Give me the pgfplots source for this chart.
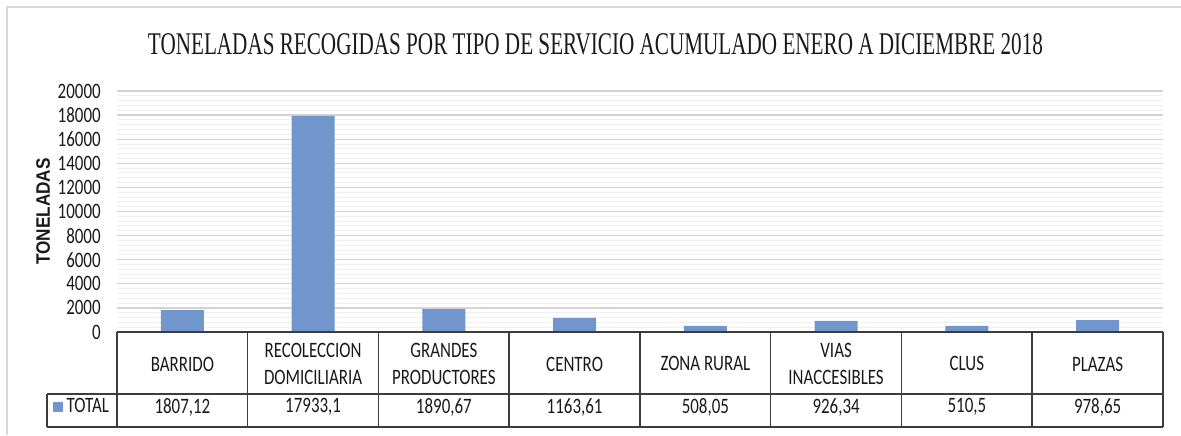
\documentclass[border=0pt]{standalone}
\usepackage{pgfplots}
\pgfplotsset{compat=1.18}
\usepackage{fontspec}
\setmainfont{Carlito}
\newfontfamily\tabfamily[FakeStretch=0.77]{Carlito}
\newfontfamily\titlefamily{Liberation Serif}
\newfontfamily\ylfamily[FakeStretch=0.88]{Liberation Sans}
\newcommand\tabfont{\tabfamily\fontsize{13.2}{15.8}\selectfont}
\newcommand\ylfont{\ylfamily\bfseries\fontsize{11.7}{14}\selectfont}
\definecolor{barblue}{RGB}{112,150,203}
\definecolor{tabline}{RGB}{60,60,60}
\definecolor{txt}{RGB}{25,25,25}
\begin{document}
\begin{tikzpicture}[x=0.6pt,y=0.6pt]
\path[use as bounding box] (0,0) rectangle (1181,435);
\draw[black!15, line width=1.2pt] (7,0) -- (7,428) -- (1181,428);
\node[anchor=base, inner sep=0pt, text=txt] at (595.5,381) {\resizebox{537pt}{12.6pt}{\titlefamily TONELADAS RECOGIDAS POR TIPO DE SERVICIO ACUMULADO ENERO A DICIEMBRE 2018}};
\begin{axis}[
  at={(70.2pt,61.8pt)}, anchor=south west,
  scale only axis, width=627.6pt, height=144.6pt,
  xmin=-0.5, xmax=7.5, ymin=0, ymax=20000,
  clip=false,
  axis line style={draw=none},
  major tick length=0pt, minor tick length=0pt,
  xtick=\empty,
  ytick={0,2000,...,20000},
  minor y tick num=4,
  ymajorgrids, yminorgrids,
  major grid style={draw=black!17, line width=0.8pt},
  minor grid style={draw=black!6, line width=0.6pt},
  scaled y ticks=false,
  /pgf/number format/assume math mode=true,
  /pgf/number format/1000 sep={},
  yticklabel style={font=\tabfont, text=txt, anchor=east, inner sep=0pt, xshift=-9.6pt},
  ylabel={TONELADAS},
  every axis y label/.style={at={(rel axis cs:-0.0707,0.5)}, rotate=90, anchor=center, font=\ylfont, text=txt},
  legend style={at={(rel axis cs:-0.0612,-0.311)}, anchor=west, draw=none, fill=none, inner sep=0pt, font=\tabfont, text=txt, legend cell align=left},
  legend image code/.code={\fill[barblue] (0pt,-3pt) rectangle (6pt,3pt);},
]
\addplot[ybar, bar width=25.8pt, bar shift=0pt, fill=barblue, draw=none]
  coordinates {(0,1807.12) (1,17933.1) (2,1890.67) (3,1163.61) (4,508.05) (5,926.34) (6,510.5) (7,978.65)};
\addlegendentry{TOTAL}
% table lines
\draw[tabline, line width=0.9pt] (axis cs:-0.5,0) -- (axis cs:7.5,0);
\draw[tabline, line width=0.9pt] (axis cs:-1.035,-5145) -- (axis cs:7.5,-5145);
\draw[tabline, line width=0.9pt] (axis cs:-1.035,-7884) -- (axis cs:7.5,-7884);
\draw[tabline, line width=0.9pt] (axis cs:-1.035,-5145) -- (axis cs:-1.035,-7884);
\pgfplotsinvokeforeach{-0.5,0.5,1.5,2.5,3.5,4.5,5.5,6.5,7.5}{
  \draw[tabline, line width=0.9pt] (axis cs:#1,0) -- (axis cs:#1,-7884);
}
% header row
\node[font=\tabfont, text=txt, align=center] at (axis cs:0,-2650) {BARRIDO};
\node[font=\tabfont, text=txt, align=center] at (axis cs:1,-2650) {RECOLECCION\\DOMICILIARIA};
\node[font=\tabfont, text=txt, align=center] at (axis cs:2,-2650) {GRANDES\\PRODUCTORES};
\node[font=\tabfont, text=txt, align=center] at (axis cs:3,-2650) {CENTRO};
\node[font=\tabfont, text=txt, align=center] at (axis cs:4,-2650) {ZONA RURAL};
\node[font=\tabfont, text=txt, align=center] at (axis cs:5,-2650) {VIAS\\INACCESIBLES};
\node[font=\tabfont, text=txt, align=center] at (axis cs:6,-2650) {CLUS};
\node[font=\tabfont, text=txt, align=center] at (axis cs:7,-2650) {PLAZAS};
% value row
\node[font=\tabfont, text=txt] at (axis cs:0,-6224) {1807,12};
\node[font=\tabfont, text=txt] at (axis cs:1,-6224) {17933,1};
\node[font=\tabfont, text=txt] at (axis cs:2,-6224) {1890,67};
\node[font=\tabfont, text=txt] at (axis cs:3,-6224) {1163,61};
\node[font=\tabfont, text=txt] at (axis cs:4,-6224) {508,05};
\node[font=\tabfont, text=txt] at (axis cs:5,-6224) {926,34};
\node[font=\tabfont, text=txt] at (axis cs:6,-6224) {510,5};
\node[font=\tabfont, text=txt] at (axis cs:7,-6224) {978,65};
\end{axis}
\end{tikzpicture}
\end{document}
